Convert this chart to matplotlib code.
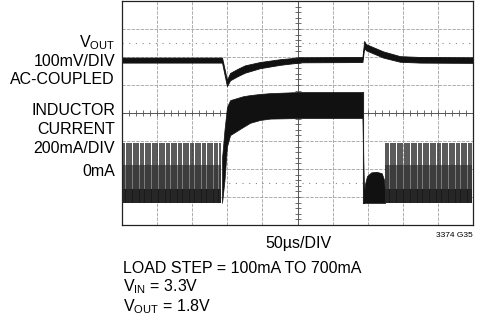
import numpy as np
import matplotlib
matplotlib.use("Agg")
import matplotlib.pyplot as plt

plt.rcParams['font.family'] = ['Liberation Sans', 'DejaVu Sans']
plt.rcParams['mathtext.fontset'] = 'custom'
plt.rcParams['mathtext.rm'] = 'Liberation Sans'

# screen is 10 x 8 divisions, values below are in divisions
# V_OUT trace (AC coupled): time, centre, half thickness
vout_t = [0, 2.85, 2.99, 3.08, 3.3, 3.5, 3.93, 4.5, 5.1, 6.85, 6.9, 6.95, 7.44, 7.92, 8.5, 10]
vout_mid = [1.89, 1.89, 1.07, 1.30, 1.45, 1.57, 1.71, 1.82, 1.90, 1.91, 2.45, 2.35, 2.09, 1.93, 1.90, 1.89]
vout_hw = [0.09, 0.09, 0.11, 0.13, 0.13, 0.13, 0.11, 0.10, 0.09, 0.09, 0.12, 0.11, 0.11, 0.10, 0.10, 0.10]

# inductor current at 700mA load: envelope of ripple band
band_t = [2.85, 2.92, 2.99, 3.08, 3.45, 3.65, 3.93, 4.22, 5.07, 6.85, 6.89]
band_top = [-1.6, -0.6, 0.21, 0.46, 0.60, 0.64, 0.68, 0.71, 0.75, 0.75, -3.1]
band_bot = [-3.21, -2.4, -1.2, -0.79, -0.5, -0.35, -0.25, -0.2, -0.18, -0.18, -3.21]

# after the load drops: current ringing down
blob_t = [6.88, 6.92, 6.98, 7.1, 7.25, 7.4, 7.47, 7.5]
blob_top = [-3.21, -2.55, -2.25, -2.12, -2.10, -2.15, -2.4, -3.21]

# burst mode (100mA) current pulses
pulse_base = -3.21
pulse_peak = -1.07
pulses_before = [0.06, 0.13, 0.19, 0.27, 0.33, 0.40, 0.47, 0.53, 0.61, 0.67,
                 0.74, 0.81, 0.87, 0.95, 1.01, 1.08, 1.15, 1.21, 1.29, 1.35,
                 1.42, 1.49, 1.55, 1.63, 1.69, 1.76, 1.83, 1.89, 1.97, 2.03,
                 2.10, 2.17, 2.23, 2.31, 2.37, 2.44, 2.51, 2.57, 2.65, 2.71, 2.78]
pulses_after = [7.52, 7.58, 7.65, 7.72, 7.79, 7.85, 7.92, 7.99, 8.06, 8.12,
                8.19, 8.26, 8.33, 8.39, 8.46, 8.53, 8.60, 8.66, 8.73, 8.80,
                8.87, 8.93, 9.00, 9.07, 9.14, 9.20, 9.27, 9.34, 9.41, 9.47,
                9.54, 9.61, 9.68, 9.74, 9.81, 9.88, 9.95]

W, H = 490, 324
fig = plt.figure(figsize=(W / 100, H / 100), dpi=100)
ax = fig.add_axes([122 / W, (H - 225) / H, 351 / W, 224 / H])
ax.set_xlim(0, 10)
ax.set_ylim(-4, 4)
ax.set_xticks([])
ax.set_yticks([])
for s in ax.spines.values():
    s.set_linewidth(0.9)
    s.set_color('#222222')

# graticule
for gx in range(1, 10):
    if gx != 5:
        ax.axvline(gx, color='#a0a0a0', lw=0.6, ls=(0, (4, 1.5)), zorder=0)
for gy in range(-3, 4):
    if gy != 0:
        ax.axhline(gy, color='#a0a0a0', lw=0.6, ls=(0, (4, 1.5)), zorder=0)
ax.axvline(5, color='#555555', lw=0.7, zorder=0)
ax.axhline(0, color='#555555', lw=0.7, zorder=0)
ty = np.arange(-4, 4.01, 0.2)
tx = np.arange(0, 10.01, 0.2)
ax.plot(np.full(len(ty), 5), ty, ls='none', marker='_', ms=4, mew=0.6, color='#555555', zorder=0)
ax.plot(tx, np.zeros(len(tx)), ls='none', marker='|', ms=4, mew=0.6, color='#555555', zorder=0)

# reference (ground) markers
ax.axhline(2.5, color='#888888', lw=0.8, ls=(0, (1, 5)), zorder=0)
ax.axhline(-2.5, color='#888888', lw=0.8, ls=(0, (1, 5)), zorder=0)

# V_OUT
vm = np.array(vout_mid)
vh = np.array(vout_hw)
ax.fill_between(vout_t, vm - vh, vm + vh, color='#111111', lw=0.6, ec='#111111')

# inductor current
ax.fill_between(band_t, band_bot, band_top, color='#111111', lw=0.5, ec='#111111')
ax.fill_between(blob_t, pulse_base, blob_top, color='#111111', lw=0.5, ec='#111111')
ax.plot([6.87, 6.87], [0.75, pulse_base], color='#222222', lw=0.8)

for grp in (pulses_before, pulses_after):
    ax.fill_between([grp[0] - 0.03, grp[-1] + 0.03], pulse_base, -1.86, color='#7a7a7a', lw=0)
    ax.fill_between([grp[0] - 0.03, grp[-1] + 0.03], pulse_base, -2.7, color='#1a1a1a', lw=0)
    ax.vlines(grp, pulse_base, pulse_peak, color='#2a2a2a', lw=1.1)


def txt(x, y, s, **kw):
    fig.text(x / W, 1 - y / H, s, **kw)


fs = 11.5
left = dict(ha='right', va='baseline', fontsize=fs)
txt(115, 47, r'V$_{\mathrm{OUT}}$', **left)
txt(115, 66, '100mV/DIV', **left)
txt(115, 84, 'AC-COUPLED', **left)
txt(115, 115, 'INDUCTOR', **left)
txt(115, 134, 'CURRENT', **left)
txt(115, 153, '200mA/DIV', **left)
txt(115, 176, '0mA', **left)

txt(298, 248, '50µs/DIV', ha='center', va='baseline', fontsize=fs)
txt(473, 237, '3374 G35', ha='right', va='baseline', fontsize=6)
txt(123, 273, 'LOAD STEP = 100mA TO 700mA', ha='left', va='baseline', fontsize=fs)
txt(123, 291, r'V$_{\mathrm{IN}}$ = 3.3V', ha='left', va='baseline', fontsize=fs)
txt(123, 311, r'V$_{\mathrm{OUT}}$ = 1.8V', ha='left', va='baseline', fontsize=fs)

fig.savefig('out.png', dpi=100)
